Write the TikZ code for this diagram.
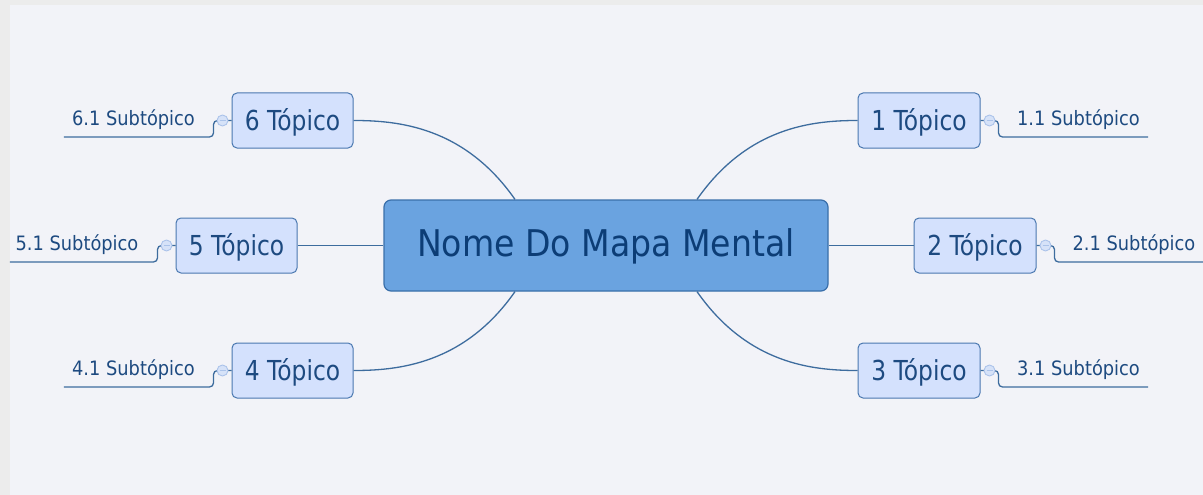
\documentclass[tikz,border=0pt]{standalone}
\usepackage{fontspec}
\setmainfont{DejaVu Sans}
\newfontfamily\dvc[FakeStretch=0.9]{DejaVu Sans}
\newfontfamily\dvt[FakeStretch=0.85]{DejaVu Sans}
\usetikzlibrary{calc}
\definecolor{bgouter}{HTML}{ECECEC}
\definecolor{bginner}{HTML}{F2F3F8}
\definecolor{centerfill}{HTML}{6AA3E0}
\definecolor{centerdraw}{HTML}{3A6FAA}
\definecolor{centertext}{HTML}{0C3D76}
\definecolor{topicfill}{HTML}{D4E1FD}
\definecolor{topicdraw}{HTML}{4A78B0}
\definecolor{topictext}{HTML}{1D4A80}
\definecolor{linecol}{HTML}{3D6C9E}
\definecolor{knobfill}{HTML}{D6E2F8}
\definecolor{knobdraw}{HTML}{ABC3EA}
\tikzset{
  centerbox/.style={draw=centerdraw, line width=1.2pt, fill=centerfill, rounded corners=7pt,
    minimum width=444pt, minimum height=91pt, inner sep=0pt,
    text=centertext, font=\dvc\fontsize{36.8}{40}\selectfont, text height=26.8pt, text depth=4.4pt},
  topicbox/.style={draw=topicdraw, line width=1pt, fill=topicfill, rounded corners=5pt,
    minimum width=121pt, minimum height=55pt, inner sep=0pt,
    text=topictext, font=\dvt\fontsize{27.5}{31}\selectfont, text height=21pt, text depth=2pt},
  subtxt/.style={inner xsep=0pt, inner ysep=7pt, minimum width=150pt, anchor=south,
    text=topictext, font=\dvc\fontsize{19.8}{22}\selectfont, text height=14.5pt, text depth=4pt},
  link/.style={draw=linecol, line width=1.3pt},
  sublink/.style={draw=linecol, line width=1.3pt, rounded corners=4pt},
  knob/.style={circle, draw=knobdraw, fill=knobfill, line width=0.9pt, minimum size=11pt, inner sep=0pt}
}
\newcommand{\knobminus}[1]{\draw[draw=knobdraw, line width=0.9pt] ($(#1)+(-3,0)$) -- ($(#1)+(3,0)$);}
\begin{document}
\begin{tikzpicture}[x=1pt, y=-1pt]
  \fill[bgouter] (0,0) rectangle (1203,495);
  \fill[bginner] (10,5) rectangle (1203,495);
  \useasboundingbox (0,0) rectangle (1203,495);

  % central node
  \node[centerbox] (c) at (606,245.5) {Nome Do Mapa Mental};

  % topics
  \node[topicbox, minimum width=122pt] (t1) at (919,120.5) {1 Tópico};
  \node[topicbox, minimum width=122pt] (t2) at (975,245.5) {2 Tópico};
  \node[topicbox, minimum width=122pt] (t3) at (919,370.5) {3 Tópico};
  \node[topicbox] (t4) at (292.5,370.5) {4 Tópico};
  \node[topicbox] (t5) at (236.5,245.5) {5 Tópico};
  \node[topicbox] (t6) at (292.5,120.5) {6 Tópico};

  % subtopics
  \node[subtxt] (s1) at (1073,137) {\hspace*{11pt}1.1 Subtópico};
  \node[subtxt, minimum width=149pt] (s2) at (1128.5,262) {\hspace*{11pt}2.1 Subtópico};
  \node[subtxt] (s3) at (1073,387) {\hspace*{11pt}3.1 Subtópico};
  \node[subtxt] (s4) at (139,387) {4.1 Subtópico\hspace*{11pt}};
  \node[subtxt, minimum width=147pt] (s5) at (83.5,262) {5.1 Subtópico\hspace*{13pt}};
  \node[subtxt] (s6) at (139,137) {6.1 Subtópico\hspace*{11pt}};

  % center to topics
  \draw[link] ($(c.north)+(91,0)$) .. controls +(51,-73) and +(-44,0) .. (t1.west);
  \draw[link] (c.east) -- (t2.west);
  \draw[link] ($(c.south)+(91,0)$) .. controls +(51,73) and +(-44,0) .. (t3.west);
  \draw[link] ($(c.south)+(-91,0)$) .. controls +(-51,73) and +(44,0) .. (t4.east);
  \draw[link] (c.west) -- (t5.east);
  \draw[link] ($(c.north)+(-91,0)$) .. controls +(-51,-73) and +(44,0) .. (t6.east);

  % topics to subtopics
  \draw[sublink] (t1.east) -- ++(18,0) |- (s1.south east);
  \draw[sublink] (t2.east) -- ++(18,0) |- (s2.south east);
  \draw[sublink] (t3.east) -- ++(18,0) |- (s3.south east);
  \draw[sublink] (t4.west) -- ++(-18,0) |- (s4.south west);
  \draw[sublink] (t5.west) -- ++(-18,0) |- (s5.south west);
  \draw[sublink] (t6.west) -- ++(-18,0) |- (s6.south west);

  % collapse knobs
  \node[knob] (k1) at ($(t1.east)+(9,0)$) {};
  \node[knob] (k2) at ($(t2.east)+(9,0)$) {};
  \node[knob] (k3) at ($(t3.east)+(9,0)$) {};
  \node[knob] (k4) at ($(t4.west)+(-9,0)$) {};
  \node[knob] (k5) at ($(t5.west)+(-9,0)$) {};
  \node[knob] (k6) at ($(t6.west)+(-9,0)$) {};
  \knobminus{k1}\knobminus{k2}\knobminus{k3}\knobminus{k4}\knobminus{k5}\knobminus{k6}
\end{tikzpicture}
\end{document}
